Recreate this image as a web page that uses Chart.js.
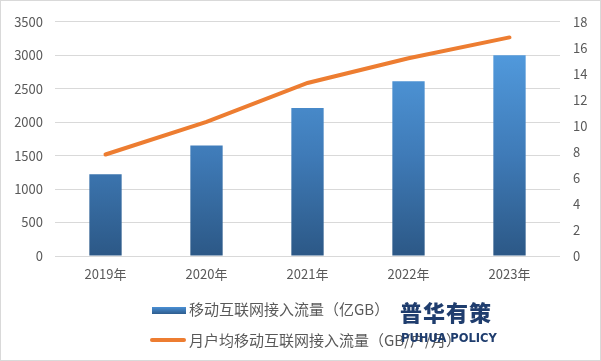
<!DOCTYPE html>
<html><head><meta charset="utf-8">
<script src="https://cdn.jsdelivr.net/npm/chart.js@4"></script>
<style>
html,body{margin:0;padding:0;background:#fff;}
#wrap{position:relative;width:601px;height:361px;box-sizing:border-box;border:1px solid #d9d9d9;overflow:hidden;}
canvas{position:absolute;left:0;top:0;}
.lg{position:absolute;font-family:"Noto Sans CJK SC","Noto Sans",sans-serif;font-size:15px;color:#595959;white-space:nowrap;line-height:18px;}
.mk{position:absolute;}
.wm1{position:absolute;font-family:"Noto Sans CJK SC",sans-serif;font-weight:900;font-size:22px;color:#1f3d6e;letter-spacing:1px;}
.wm2{position:absolute;font-family:"DejaVu Sans",sans-serif;font-weight:bold;font-size:11.5px;color:#1f3d6e;}
</style></head><body>
<div id="wrap">
<canvas id="c" width="599" height="359"></canvas>
<div class="mk" style="left:151px;top:306px;width:34px;height:7px;background:linear-gradient(#4a8fd4,#2e5d8e);"></div>
<div class="lg" style="left:188px;top:299px;">移动互联网接入流量（亿GB）</div>
<div class="mk" style="left:149px;top:337px;width:36px;height:4px;border-radius:2px;background:#ed7d31;"></div>
<div class="lg" style="left:188px;top:330px;">月户均移动互联网接入流量（GB/户/月）</div>
<div class="wm1" style="left:399px;top:294px;">普华有策</div>
<div class="wm2" style="left:400px;top:330px;">PUHUA POLICY</div>
</div>
<script>
const categories = ["2019年","2020年","2021年","2022年","2023年"];
const trafficTotal = [1220, 1650, 2210, 2610, 3000];
const trafficPerUser = [7.8, 10.3, 13.3, 15.2, 16.8];
const seriesNames = ["移动互联网接入流量（亿GB）","月户均移动互联网接入流量（GB/户/月）"];

function barGradient(ctx){
  const ch = ctx.chart; const a = ch.chartArea;
  if(!a) return '#4a8fd4';
  const g = ch.ctx.createLinearGradient(0, a.top + 30, 0, a.bottom);
  g.addColorStop(0, '#519add');
  g.addColorStop(0.5, '#3f7bb8');
  g.addColorStop(1, '#2c5886');
  return g;
}
const tickFont = {family:'"Noto Sans CJK SC","Noto Sans",sans-serif', size:13};
new Chart(document.getElementById('c'), {
  data:{
    labels: categories,
    datasets:[
      {type:'line', label:seriesNames[1], data:trafficPerUser, yAxisID:'y1', borderColor:'#ed7d31', borderWidth:4, pointRadius:0, tension:0, borderCapStyle:'round', order:0},
      {type:'bar', label:seriesNames[0], data:trafficTotal, yAxisID:'y', backgroundColor:barGradient, categoryPercentage:1, barPercentage:0.32, order:1}
    ]
  },
  options:{
    responsive:false, animation:false,
    layout:{padding:{top:16, bottom:78, left:0, right:0}},
    plugins:{legend:{display:false}, tooltip:{enabled:false}},
    scales:{
      x:{grid:{display:false, drawTicks:false}, border:{display:false},
         ticks:{font:tickFont, color:'#595959', padding:10},
         afterFit:s=>{s.height=26;}},
      y:{position:'left', min:0, max:3500, ticks:{stepSize:500, font:tickFont, color:'#595959', padding:12, callback:v=>String(v)},
         grid:{color:'#d9d9d9', drawTicks:false}, border:{display:false},
         afterFit:s=>{s.width=54;}},
      y1:{position:'right', min:0, max:18, ticks:{stepSize:2, font:tickFont, color:'#595959', padding:13, callback:v=>String(v)},
         grid:{display:false, drawTicks:false}, border:{display:false},
         afterFit:s=>{s.width=40;}}
    }
  }
});
</script>
</body></html>
